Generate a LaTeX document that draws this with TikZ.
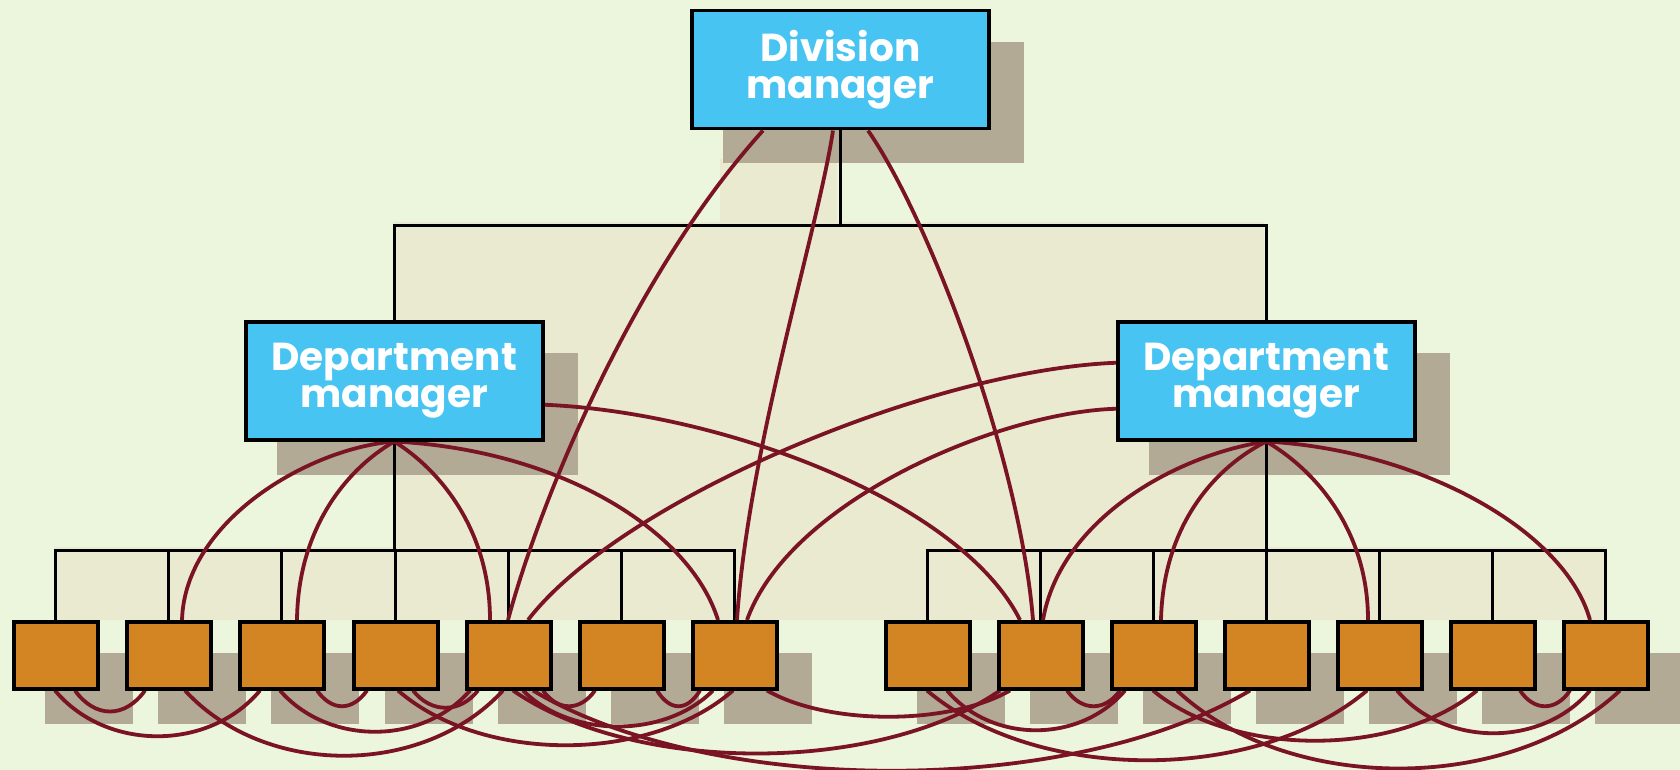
\documentclass[tikz,border=0pt]{standalone}
\usepackage{fontspec}
\newfontfamily\pop{Poppins}
\definecolor{bgc}{RGB}{235,246,220}
\definecolor{beigec}{RGB}{233,234,207}
\definecolor{bluec}{RGB}{72,196,242}
\definecolor{orangec}{RGB}{210,133,34}
\definecolor{shadc}{RGB}{178,170,148}
\definecolor{curvec}{RGB}{122,20,36}
\pgfdeclarelayer{bgl}\pgfdeclarelayer{shl}\pgfdeclarelayer{conl}\pgfdeclarelayer{curl}
\pgfsetlayers{bgl,shl,conl,curl,main}
\begin{document}
\begin{tikzpicture}[x=1pt,y=-1pt,
  mgr/.style={draw=black,line width=3.5pt,fill=bluec,minimum width=297pt,minimum height=118pt,inner sep=0pt,anchor=north west,text=white,font=\pop\bfseries\fontsize{39}{37}\selectfont,align=center},
  worker/.style={draw=black,line width=3.5pt,fill=orangec,minimum width=84pt,minimum height=67pt,inner sep=0pt,anchor=north west},
  conn/.style={line width=3pt,black},
  link/.style={line width=3.8pt,curvec},
  shad/.style={fill=shadc}]
\useasboundingbox (0,0) rectangle (1680,770);
% boxes
\node[mgr] (DM) at (690,9) {Division\\manager};
\node[mgr] (LD) at (244,320) {Department\\manager};
\node[mgr] (RD) at (1116,320) {Department\\manager};
\foreach \i/\x in {1/12,2/125,3/238,4/352,5/465,6/578,7/691}
  \node[worker] (L\i) at (\x,620) {};
\foreach \i/\x in {1/884,2/997,3/1110,4/1223,5/1336,6/1449,7/1562}
  \node[worker] (R\i) at (\x,620) {};
% background
\begin{pgfonlayer}{bgl}
\fill[bgc] (0,0) rectangle (1680,770);
\fill[beigec] (720,159) -- (837,159) -- (837,222) -- (1264,222) -- (1264,547) -- (1606,547) -- (1606,620) -- (54,620) -- (54,547) -- (393,547) -- (393,222) -- (720,222) -- cycle;
\end{pgfonlayer}
% shadows
\begin{pgfonlayer}{shl}
\foreach \n in {DM,LD,RD,L1,L2,L3,L4,L5,L6,L7,R1,R2,R3,R4,R5,R6,R7}
  \fill[shad] ([shift={(33,33)}]\n.north west) rectangle ([shift={(33,33)}]\n.south east);
\end{pgfonlayer}
% tree connectors
\begin{pgfonlayer}{conl}
\draw[conn] (DM.south) -- ++(0,95) -| (LD.north);
\draw[conn] (DM.south) -- ++(0,95) -| (RD.north);
\foreach \i in {1,...,7}{
  \draw[conn] (LD.south) -- ++(0,109) -| (L\i.north);
  \draw[conn] (RD.south) -- ++(0,109) -| (R\i.north);
}
\end{pgfonlayer}
% informal links
\begin{pgfonlayer}{curl}
% from division manager
\draw[link] ([xshift=73pt]DM.south west) .. controls (631,277) and (539,504) .. ([xshift=43pt]L5.north west);
\draw[link] ([xshift=143pt]DM.south west) .. controls (818,230) and (748,450) .. ([xshift=46pt]L7.north west);
\draw[link] ([xshift=178pt]DM.south west) .. controls (930,220) and (1020,460) .. ([xshift=36pt]R2.north west);
% from left department manager
\draw[link] (LD.south) .. controls (310,448) and (185,520) .. ([xshift=57pt]L2.north west);
\draw[link] (LD.south) .. controls (345,470) and (298,530) .. ([xshift=59pt]L3.north west);
\draw[link] (LD.south) .. controls (440,470) and (490,530) .. ([xshift=25pt]L5.north west);
\draw[link] (LD.south) .. controls (560,450) and (690,530) .. ([xshift=27pt]L7.north west);
\draw[link] ([yshift=-24pt]LD.east) .. controls (720,412) and (960,500) .. ([xshift=23pt]R2.north west);
% from right department manager
\draw[link] ([yshift=18pt]RD.west) .. controls (930,370) and (620,500) .. ([xshift=63pt]L5.north west);
\draw[link] ([yshift=-28pt]RD.west) .. controls (1000,412) and (790,500) .. ([xshift=56pt]L7.north west);
\draw[link] (RD.south) .. controls (1175,455) and (1060,520) .. ([xshift=46pt]R2.north west);
\draw[link] (RD.south) .. controls (1210,470) and (1163,530) .. ([xshift=51pt]R3.north west);
\draw[link] (RD.south) .. controls (1315,470) and (1368,530) .. ([xshift=32pt]R5.north west);
\draw[link] (RD.south) .. controls (1420,450) and (1565,530) .. ([xshift=28pt]R7.north west);
% among workers
\draw[link] ([xshift=63pt]L1.south west) .. controls +(20,28) and +(-20,28) .. ([xshift=20pt]L2.south west);
\draw[link] ([xshift=43pt]L1.south west) .. controls +(51,61) and +(-51,61) .. ([xshift=22pt]L3.south west);
\draw[link] ([xshift=60pt]L2.south west) .. controls +(80,87) and +(-80,87) .. ([xshift=38pt]L5.south west);
\draw[link] ([xshift=79pt]L3.south west) .. controls +(15,21) and +(-15,21) .. ([xshift=15pt]L4.south west);
\draw[link] ([xshift=42pt]L3.south west) .. controls +(48,55) and +(-48,55) .. ([xshift=5pt]L5.south west);
\draw[link] ([xshift=61pt]L4.south west) .. controls +(18,23) and +(-18,23) .. ([xshift=13pt]L5.south west);
\draw[link] ([xshift=46pt]L4.south west) .. controls +(84,73) and +(-84,73) .. ([xshift=42pt]L7.south west);
\draw[link] ([xshift=58pt]L5.south west) .. controls +(48,48) and +(-48,48) .. ([xshift=22pt]L7.south west);
\draw[link] ([xshift=78pt]L5.south west) .. controls +(15,21) and +(-15,21) .. ([xshift=17pt]L6.south west);
\draw[link] ([xshift=48pt]L5.south west) .. controls +(122,84) and +(-122,84) .. ([xshift=3pt]R2.south west);
\draw[link] ([xshift=68pt]L5.south west) .. controls +(179,107) and +(-179,107) .. ([xshift=27pt]R4.south west);
\draw[link] ([xshift=79pt]L6.south west) .. controls +(13,21) and +(-13,21) .. ([xshift=9pt]L7.south west);
\draw[link] ([xshift=76pt]L7.south west) .. controls +(61,35) and +(-61,35) .. ([xshift=13pt]R2.south west);
\draw[link] ([xshift=63pt]R1.south west) .. controls +(45,53) and +(-45,53) .. ([xshift=15pt]R3.south west);
\draw[link] ([xshift=70pt]R2.south west) .. controls +(15,21) and +(-15,21) .. ([xshift=10pt]R3.south west);
\draw[link] ([xshift=43pt]R1.south west) .. controls +(110,93) and +(-110,93) .. ([xshift=31pt]R5.south west);
\draw[link] ([xshift=43pt]R3.south west) .. controls +(81,67) and +(-81,67) .. ([xshift=28pt]R6.south west);
\draw[link] ([xshift=67pt]R3.south west) .. controls +(111,104) and +(-111,104) .. ([xshift=58pt]R7.south west);
\draw[link] ([xshift=61pt]R5.south west) .. controls +(48,57) and +(-48,57) .. ([xshift=28pt]R7.south west);
\draw[link] ([xshift=71pt]R6.south west) .. controls +(14,21) and +(-14,21) .. ([xshift=8pt]R7.south west);
\end{pgfonlayer}
\end{tikzpicture}
\end{document}
